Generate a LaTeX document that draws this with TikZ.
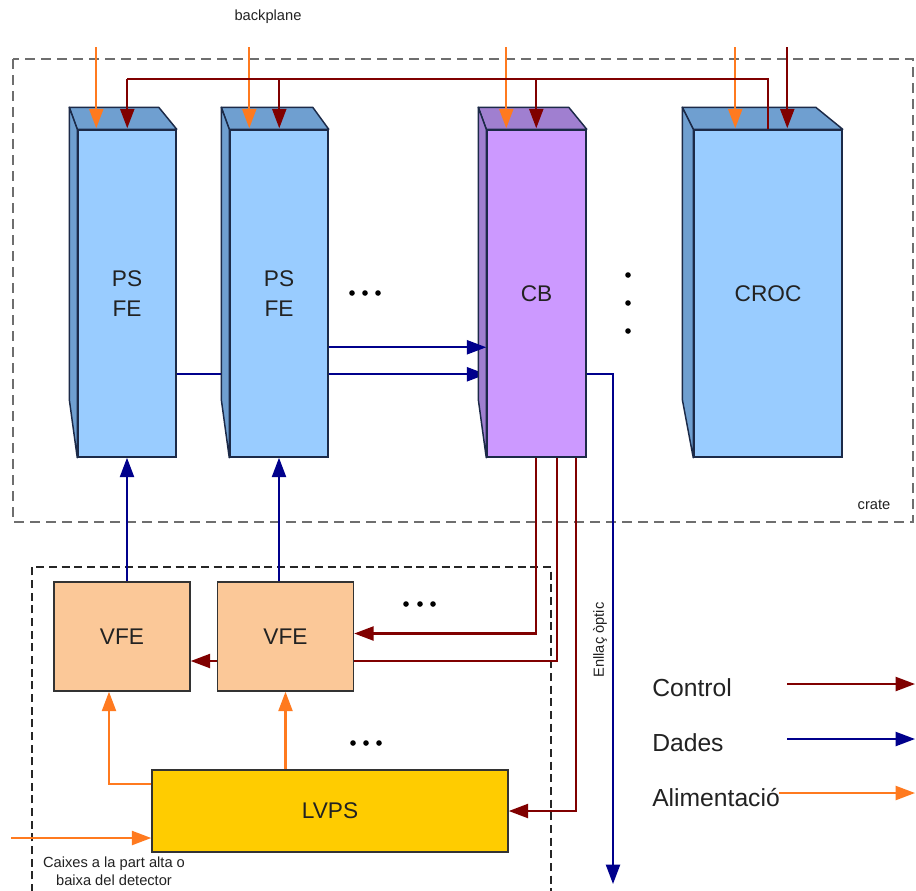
\documentclass[tikz,border=0pt]{standalone}
\usepackage{fontspec}
\setmainfont{Liberation Sans}
\usetikzlibrary{arrows.meta,calc}
\pgfdeclarelayer{bg}
\pgfdeclarelayer{canvas}
\pgfsetlayers{canvas,bg,main}
\definecolor{ctrl}{HTML}{800000}
\definecolor{data}{HTML}{00008C}
\definecolor{pow}{HTML}{FF7A1F}
\definecolor{psfront}{HTML}{99CCFF}
\definecolor{psdark}{HTML}{6F9FD0}
\definecolor{cbfront}{HTML}{CC99FF}
\definecolor{cbdark}{HTML}{A07FD0}
\definecolor{edge}{HTML}{1C2A48}
\definecolor{vfecol}{HTML}{FBC898}
\definecolor{lvpscol}{HTML}{FFCC00}
\definecolor{txt}{HTML}{222222}
\definecolor{dashgray}{HTML}{6E6E6E}
\newcommand{\boardfaces}[4]{%
  \filldraw[fill=#4,draw=edge,line width=1.1pt,line join=round]
    (#1.north west) -- ++(-#2,-22) -- ($(#1.north east)+(-#3,-22)$) -- (#1.north east) -- cycle;
  \filldraw[fill=#4,draw=edge,line width=1.1pt,line join=round]
    (#1.north west) -- ++(-#2,-22) -- ++(0,292) -- (#1.south west) -- cycle;
}
\begin{document}
\begin{tikzpicture}[x=0.75pt,y=-0.75pt,
  face/.style={draw=edge,line width=1.1pt,inner sep=0pt,text=txt,font=\fontsize{17}{22.5}\selectfont,align=center},
  flatbox/.style={draw=black!80,line width=1.1pt,inner sep=0pt,text=txt,font=\fontsize{17}{20}\selectfont},
  tip/.style={-{Triangle[length=14.5pt,width=10.5pt]}},
  ctrlline/.style={draw=ctrl,line width=1.6pt},
  ctrlarrow/.style={ctrlline,tip},
  dataarrow/.style={draw=data,line width=1.6pt,tip},
  powarrow/.style={draw=pow,line width=1.6pt,tip},
  smalltxt/.style={text=txt,font=\fontsize{11}{13.5}\selectfont,inner sep=0pt},
  legtxt/.style={text=txt,font=\fontsize{18.5}{22}\selectfont,inner sep=0pt,anchor=west},
  dot/.style={fill=black}
]
\begin{pgfonlayer}{canvas}
\fill[white] (0,0) rectangle (916,890);
\end{pgfonlayer}
\useasboundingbox (0,0) rectangle (916,890);

% crate dashed frame
\begin{pgfonlayer}{bg}
\draw[dashgray,line width=2pt,dash pattern=on 7.5pt off 4.5pt] (13,59) rectangle (913,522);
\end{pgfonlayer}
\draw[black!85,line width=1pt,dash pattern=on 6pt off 3.5pt] (32,892) -- (32,567) -- (551,567) -- (551,892);

% boards (front faces)
\node[face,fill=psfront,minimum width=73.5pt,minimum height=245.25pt] (psfe1) at (127,293.5) {PS\\FE};
\node[face,fill=psfront,minimum width=73.5pt,minimum height=245.25pt] (psfe2) at (279,293.5) {PS\\FE};
\node[face,fill=cbfront,minimum width=74.25pt,minimum height=245.25pt] (cb) at (536.5,293.5) {CB};
\node[face,fill=psfront,minimum width=111pt,minimum height=245.25pt] (croc) at (768,293.5) {CROC};
\boardfaces{psfe1}{8}{18}{psdark}
\boardfaces{psfe2}{8}{16}{psdark}
\boardfaces{cb}{8}{18}{cbdark}
\boardfaces{croc}{11}{27}{psdark}

% lower boxes
\node[flatbox,fill=vfecol,minimum width=102pt,minimum height=81.75pt] (vfe1) at (122,636.5) {VFE};
\node[flatbox,fill=vfecol,minimum width=102pt,minimum height=81.75pt] (vfe2) at (285.5,636.5) {VFE};
\node[flatbox,fill=lvpscol,minimum width=267pt,minimum height=61.5pt] (lvps) at (330,811) {LVPS};

% labels
\node[smalltxt] (bp) at (268,17) {backplane};
\node[smalltxt] (crate) at (874,505) {crate};
\node[smalltxt,align=center] (caixes) at (114,871) {Caixes a la part alta o\\baixa del detector};
\node[smalltxt,rotate=90] (optic) at (600,640) {Enllaç òptic};

% dots
\foreach \x in {352,365,378} \fill[dot] (\x,293) circle (2.8);
\foreach \y in {275,303,331} \fill[dot] (628,\y) circle (2.8);
\foreach \x in {406,420,433} \fill[dot] (\x,604) circle (2.8);
\foreach \x in {353,366,379} \fill[dot] (\x,743) circle (2.8);

% backplane power (orange)
\draw[powarrow] ($(psfe1.north west)+(19,-82)$) -- ($(psfe1.north west)+(19,-1)$);
\draw[powarrow] ($(psfe2.north west)+(20,-82)$) -- ($(psfe2.north west)+(20,-1)$);
\draw[powarrow] ($(cb.north west)+(20,-82)$) -- ($(cb.north west)+(20,-1)$);
\draw[powarrow] ($(croc.north west)+(42,-82)$) -- ($(croc.north west)+(42,-1)$);

% backplane control bus (red)
\draw[ctrlline] ($(croc.north west)+(75,0)$) |- ($(psfe1.north west)+(50,-50)$);
\draw[ctrlarrow] ($(psfe1.north west)+(50,-50)$) -- ($(psfe1.north west)+(50,-1)$);
\draw[ctrlarrow] ($(psfe2.north west)+(50,-50)$) -- ($(psfe2.north west)+(50,-1)$);
\draw[ctrlarrow] ($(cb.north west)+(50,-50)$) -- ($(cb.north west)+(50,-1)$);
\draw[ctrlarrow] ($(croc.north west)+(94,-82)$) -- ($(croc.north west)+(94,-1)$);

% data to CB
\draw[dataarrow] ($(psfe2.north east)+(0,218)$) -- ($(cb.north west)+(0,218)$);
\begin{pgfonlayer}{bg}
\draw[dataarrow] ($(psfe1.north east)+(0,245)$) -- ($(cb.north west)+(0,245)$);
\end{pgfonlayer}
\coordinate (optend) at (613,884);
\draw[dataarrow] ($(cb.north east)+(0,245)$) -| (optend);

% data VFE -> PS FE
\draw[dataarrow] (psfe1.south |- vfe1.north) -- (psfe1.south);
\draw[dataarrow] (psfe2.south |- vfe2.north) -- (psfe2.south);

% control from CB
\draw[ctrlarrow] ($(cb.south west)+(50,0)$) |- ($(vfe2.east)+(0,-3)$);
\draw[ctrlline] ($(vfe2.east)+(0,24.5)$) -| ($(cb.south west)+(71,0)$);
\draw[ctrlarrow] ($(vfe2.west)+(0,24.5)$) -- ($(vfe1.east)+(0,24.5)$);
\draw[ctrlarrow] ($(cb.south west)+(90,0)$) |- (lvps.east);

% power from LVPS
\draw[powarrow] ($(lvps.west)+(0,-27)$) -| ($(vfe1.south)+(-13,0)$);
\draw[powarrow] (lvps.north -| vfe2.south) -- (vfe2.south);
\coordinate (pin) at (11,838);
\draw[powarrow] (pin) -- (pin -| lvps.west);

% legend
\node[legtxt] (lc) at (652,688) {Control};
\node[legtxt] (ld) at (652,743) {Dades};
\node[legtxt] (la) at (652,798) {Alimentació};
\coordinate (lcs) at (787,684);
\coordinate (lce) at (915,684);
\coordinate (lds) at (787,739);
\coordinate (lde) at (915,739);
\coordinate (las) at (779,793);
\coordinate (lae) at (915,793);
\draw[ctrlarrow] (lcs) -- (lce);
\draw[dataarrow] (lds) -- (lde);
\draw[powarrow] (las) -- (lae);
\end{tikzpicture}
\end{document}
